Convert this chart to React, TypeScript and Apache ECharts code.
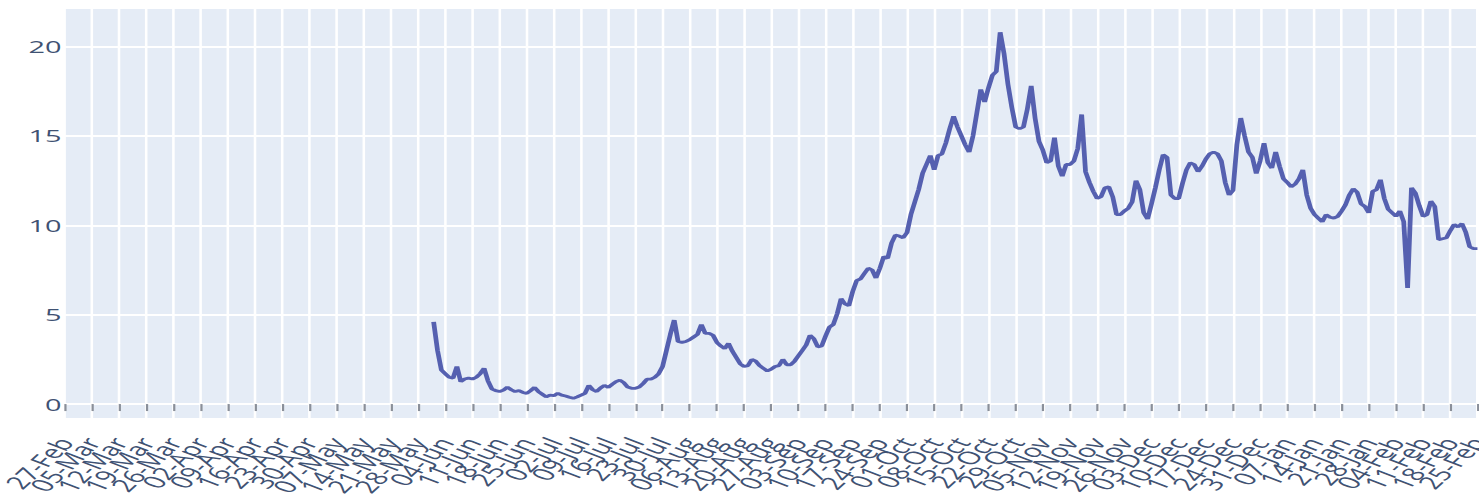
import React, { useEffect, useRef } from "react";
import * as echarts from "echarts";

// First weekly tick of the x axis and first day with data
const AXIS_START = "2020-02-27";
const AXIS_END = "2021-02-25";
const DATA_START = "2020-06-01";

const MONTHS = ["Jan", "Feb", "Mar", "Apr", "May", "Jun", "Jul", "Aug", "Sep", "Oct", "Nov", "Dec"];

// Daily values, June 2020 .. 25 Feb 2021
const junValues = [4.6, 3.0, 1.9, 1.7, 1.5, 1.45, 2.1, 1.25, 1.4, 1.45, 1.4, 1.5, 1.7, 2.0, 1.3, 0.85, 0.75, 0.7, 0.78, 0.95, 0.8, 0.7, 0.75, 0.65, 0.6, 0.75, 0.93, 0.7, 0.55, 0.4];
const julValues = [0.5, 0.47, 0.6, 0.5, 0.45, 0.38, 0.32, 0.4, 0.5, 0.6, 1.05, 0.8, 0.7, 0.9, 1.05, 0.93, 1.1, 1.25, 1.34, 1.2, 0.95, 0.88, 0.88, 0.95, 1.15, 1.4, 1.4, 1.5, 1.7, 2.1, 3.0];
const augValues = [3.9, 4.7, 3.5, 3.45, 3.5, 3.6, 3.75, 3.9, 4.45, 3.95, 3.95, 3.85, 3.45, 3.25, 3.1, 3.4, 2.95, 2.6, 2.25, 2.1, 2.15, 2.5, 2.4, 2.15, 2.0, 1.85, 1.95, 2.1, 2.15, 2.5, 2.2];
const sepValues = [2.2, 2.4, 2.7, 3.0, 3.3, 3.85, 3.65, 3.2, 3.25, 3.8, 4.3, 4.45, 5.05, 5.9, 5.6, 5.5, 6.3, 6.9, 7.0, 7.3, 7.6, 7.5, 7.05, 7.6, 8.25, 8.15, 9.0, 9.45, 9.4, 9.3];
const octValues = [9.6, 10.6, 11.3, 12.0, 12.9, 13.4, 13.9, 13.1, 13.9, 14.0, 14.6, 15.4, 16.1, 15.5, 15.0, 14.5, 14.1, 15.0, 16.3, 17.6, 16.9, 17.7, 18.4, 18.6, 20.8, 19.6, 17.9, 16.6, 15.5, 15.4, 15.5];
const novValues = [16.5, 17.8, 16.0, 14.7, 14.2, 13.5, 13.6, 14.9, 13.3, 12.75, 13.4, 13.4, 13.6, 14.3, 16.2, 13.0, 12.4, 11.9, 11.5, 11.6, 12.1, 12.15, 11.6, 10.6, 10.6, 10.8, 10.95, 11.3, 12.5, 12.0];
const decValues = [10.7, 10.35, 11.2, 12.1, 13.1, 13.95, 13.8, 11.7, 11.5, 11.5, 12.35, 13.1, 13.5, 13.4, 13.0, 13.3, 13.7, 14.0, 14.1, 14.0, 13.6, 12.4, 11.7, 11.95, 14.5, 16.0, 15.0, 14.1, 13.8, 12.9, 13.6];
const janValues = [14.6, 13.5, 13.2, 14.1, 13.3, 12.6, 12.4, 12.15, 12.3, 12.6, 13.1, 11.7, 10.95, 10.6, 10.4, 10.2, 10.6, 10.45, 10.4, 10.5, 10.8, 11.15, 11.7, 12.05, 11.85, 11.2, 11.05, 10.7, 11.9, 12.0, 12.55];
const febValues = [11.5, 10.9, 10.7, 10.5, 10.8, 10.2, 6.5, 12.1, 11.8, 11.1, 10.5, 10.6, 11.35, 11.05, 9.2, 9.25, 9.3, 9.7, 10.05, 9.9, 10.1, 9.6, 8.8, 8.7, 8.7];

const yTickValues = [0, 5, 10, 15, 20];

// The reference picture is stretched horizontally; reproduce with a CSS scale
const SX = 1.7;
const PAGE_W = 1479;
const PAGE_H = 500;

const DAY = 86400000;
const toUTC = (s: string) => {
  const [y, m, d] = s.split("-").map(Number);
  return Date.UTC(y, m - 1, d);
};
const dayLabel = (offset: number) => {
  const dt = new Date(toUTC(AXIS_START) + Math.round(offset) * DAY);
  const dd = String(dt.getUTCDate()).padStart(2, "0");
  return `${dd}-${MONTHS[dt.getUTCMonth()]}`;
};

export default function App() {
  const ref = useRef<HTMLDivElement>(null);

  useEffect(() => {
    if (!ref.current) return;
    const chart = echarts.init(ref.current, undefined, { renderer: "svg" });

    const allValues = [
      ...junValues, ...julValues, ...augValues, ...sepValues, ...octValues,
      ...novValues, ...decValues, ...janValues, ...febValues,
    ];
    const firstOffset = Math.round((toUTC(DATA_START) - toUTC(AXIS_START)) / DAY);
    const data = allValues.map((v, i) => [firstOffset + i, v]);
    const lastTick = Math.round((toUTC(AXIS_END) - toUTC(AXIS_START)) / DAY);

    const labelStyle = {
      rotate: 57,
      margin: 21,
      fontSize: 18,
      fontFamily: "Open Sans",
      color: "#3f5273",
      verticalAlign: "middle",
      padding: [12.6, 0, 0, 0],
      showMaxLabel: true,
      showMinLabel: true,
    };
    const isWeekTick = (v: number) => Math.abs(v - Math.round(v)) < 1e-6 && Math.round(v) % 7 === 0;

    chart.setOption({
      animation: false,
      grid: {
        left: 65 / SX,
        right: 0,
        top: 9,
        bottom: 82,
        show: true,
        backgroundColor: "#E5ECF6",
        borderWidth: 0,
        containLabel: false,
        outerBoundsMode: "none",
      },
      xAxis: [
        {
          type: "value",
          min: 0,
          max: lastTick + 0.4,
          interval: 7,
          axisLine: { show: false },
          axisTick: { show: true, length: 7, lineStyle: { color: "#8a8f99", width: 1.3 } },
          splitLine: { show: true, lineStyle: { color: "#ffffff", width: 1.5 } },
          axisLabel: {
            ...labelStyle,
            formatter: (v: number) => (v > 0 && isWeekTick(v) ? dayLabel(v) : ""),
          },
        },
        {
          type: "value",
          min: 0,
          max: lastTick + 0.4,
          interval: 7,
          position: "bottom",
          axisLine: { show: false },
          axisTick: { show: false },
          splitLine: { show: false },
          axisLabel: {
            ...labelStyle,
            formatter: (v: number) => (v === 0 ? dayLabel(v) : ""),
          },
        },
      ],
      yAxis: {
        type: "value",
        min: -0.78,
        max: 22.1,
        axisLine: { show: false },
        axisTick: { show: false, customValues: yTickValues },
        splitLine: { show: true, lineStyle: { color: "#ffffff", width: 2 } },
        axisLabel: {
          customValues: yTickValues,
          fontSize: 17,
          fontFamily: "Open Sans",
          color: "#3f5273",
          margin: 2,
        },
      },
      series: [
        {
          type: "line",
          data,
          xAxisIndex: 0,
          showSymbol: false,
          symbol: "none",
          lineStyle: { color: "#5560B0", width: 2.8 },
        },
      ],
    });

    return () => chart.dispose();
  }, []);

  return (
    <div
      style={{
        position: "absolute",
        left: 0,
        top: 0,
        width: PAGE_W,
        height: PAGE_H,
        overflow: "hidden",
      }}
    >
      <div
        ref={ref}
        style={{
          width: PAGE_W / SX,
          height: PAGE_H,
          transform: `scaleX(${SX})`,
          transformOrigin: "left top",
        }}
      />
    </div>
  );
}
